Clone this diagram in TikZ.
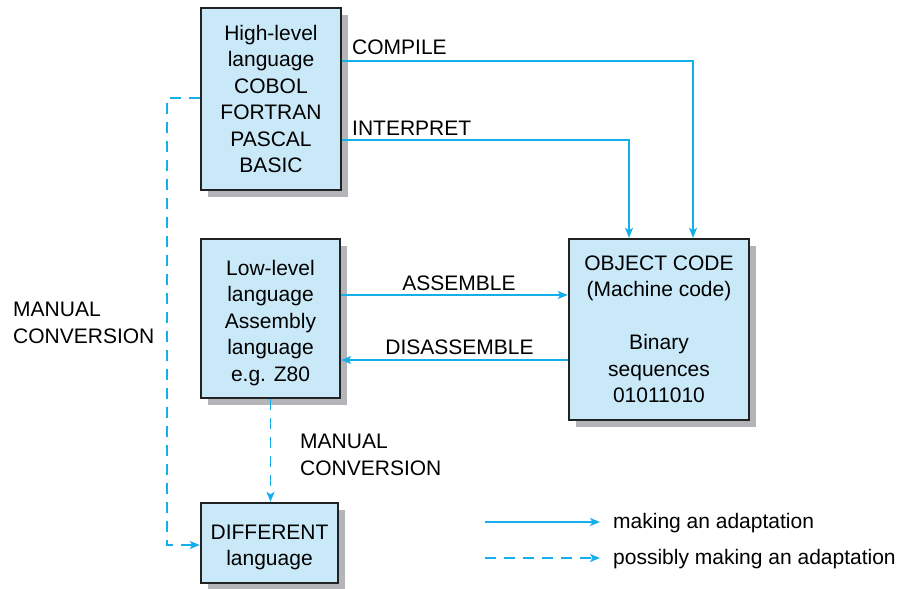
\documentclass[tikz,border=0pt]{standalone}
\usepackage{fontspec}
\setmainfont{Liberation Sans}
\usetikzlibrary{arrows.meta,shadows,calc}
\definecolor{boxfill}{RGB}{201,233,248}
\definecolor{linec}{RGB}{20,174,234}
\definecolor{shadowc}{RGB}{180,181,184}
\definecolor{edgec}{RGB}{34,34,34}
\tikzset{
  box/.style={draw=edgec, line width=2.4pt, fill=boxfill, align=center, inner sep=0pt,
    drop shadow={shadow xshift=7pt, shadow yshift=-7pt, fill=shadowc, opacity=1}},
  conn/.style={draw=linec, line width=1.6pt, -{Stealth[length=10pt,width=8pt,inset=2.5pt]}},
  dconn/.style={conn, dash pattern=on 11pt off 8pt},
  lbl/.style={inner sep=0pt, text=black},
}
\begin{document}
\begin{tikzpicture}[x=1pt,y=-1pt, font=\fontsize{21}{26.5}\selectfont]
\useasboundingbox (0,0) rectangle (908,589);
% boxes
\node[box, minimum width=140pt, minimum height=182pt] (H) at (271,99)
  {High-level\\language\\COBOL\\FORTRAN\\PASCAL\\BASIC};
\node[box, minimum width=139pt, minimum height=159pt] (L) at (270.5,318.5)
  {\\[-3pt]Low-level\\language\\Assembly\\language\\e.g. Z80};
\node[box, minimum width=180pt, minimum height=181pt] (O) at (659,329.5)
  {OBJECT CODE\\(Machine code)\\[26.5pt]Binary\\sequences\\01011010};
\node[box, minimum width=137pt, minimum height=80pt] (D) at (269.5,543)
  {\\[-3pt]DIFFERENT\\language};
% connectors
\draw[conn] ([yshift=38pt]H.east) -| ([xshift=34pt]O.north);
\draw[conn] ([yshift=-41pt]H.east) -| ([xshift=-30pt]O.north);
\coordinate (a1) at ([yshift=23.5pt]L.east);
\draw[conn] (a1) -- (a1 -| O.west);
\coordinate (d1) at ([yshift=-30.5pt]O.west);
\draw[conn] (d1) -- (d1 -| L.east);
\coordinate (m1) at ([yshift=1pt]H.west);
\draw[dconn] (m1) -- ++(-33pt,0) |- ([yshift=-2pt]D.west);
\draw[dconn] (L.south) -- (L.south |- D.north);
% labels
\node[lbl, anchor=base west] (lc) at (352,54) {COMPILE};
\node[lbl, anchor=base west] (li) at (352,135) {INTERPRET};
\node[lbl, anchor=base] (la) at (459,290) {ASSEMBLE};
\node[lbl, anchor=base] (ld) at (459.5,354) {DISASSEMBLE};
\node[lbl, anchor=west, align=left] (lm1) at (13,323) {MANUAL\\CONVERSION};
\node[lbl, anchor=west, align=left] (lm2) at (300,455) {MANUAL\\CONVERSION};
% legend
\coordinate (s1) at (485,522);
\coordinate (s2) at (600,522);
\draw[conn] (s1) -- (s2);
\node[lbl, anchor=base west] (t1) at (613,528) {making an adaptation};
\coordinate (e1) at (485,558);
\coordinate (e2) at (600,558);
\draw[dconn] (e1) -- (e2);
\node[lbl, anchor=base west] (t2) at (613,564) {possibly making an adaptation};
\end{tikzpicture}
\end{document}
